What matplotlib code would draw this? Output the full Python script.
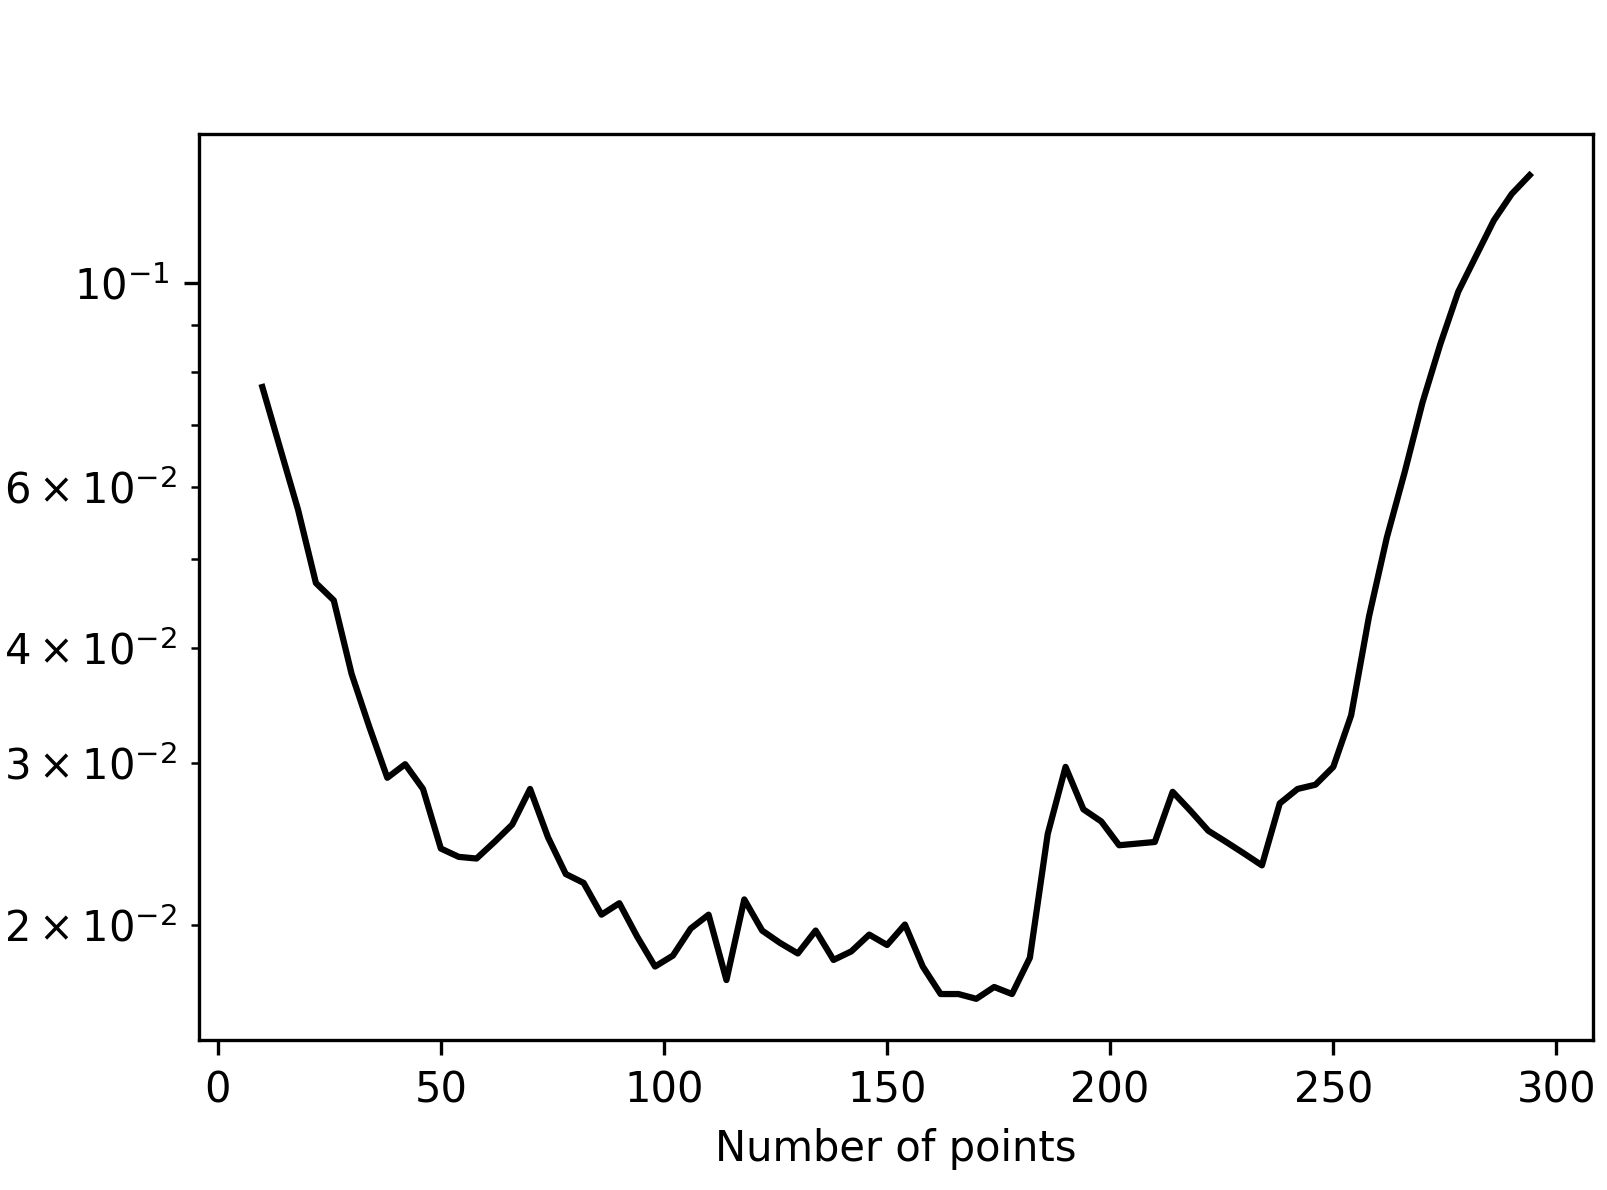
import numpy as np
import matplotlib.pyplot as plt

# Number of points (x) and error values
n_points = list(range(10, 295, 4))
error = [
    0.0770, 0.0660, 0.0566, 0.0471, 0.0451, 0.0375, 0.0328, 0.0289, 0.0299, 0.0281,
    0.0242, 0.0237, 0.0236, 0.0246, 0.0257, 0.0281, 0.0249, 0.0227, 0.0222, 0.0205,
    0.0211, 0.0194, 0.0180, 0.0185, 0.0198, 0.0205, 0.0174, 0.0213, 0.0197, 0.0191,
    0.0186, 0.0197, 0.0183, 0.0187, 0.0195, 0.0190, 0.0200, 0.0180, 0.0168, 0.0168,
    0.0166, 0.0171, 0.0168, 0.0184, 0.0251, 0.0297, 0.0267, 0.0259, 0.0244, 0.0245,
    0.0246, 0.0279, 0.0266, 0.0253, 0.0246, 0.0239, 0.0232, 0.0271, 0.0281, 0.0284,
    0.0297, 0.0338, 0.0433, 0.0528, 0.0622, 0.0741, 0.0858, 0.0978, 0.1070, 0.1170,
    0.1250, 0.1310,
]

dpi = 300
fig = plt.figure(figsize=(1607 / dpi, 1190 / dpi), dpi=dpi)
ax = fig.add_axes([199 / 1607, 1 - 1040 / 1190, (1593 - 199) / 1607, (1040 - 134) / 1190])

ax.plot(n_points, error, color="black", linewidth=1.5)
ax.set_yscale("log")
ax.set_xlabel("Number of points")

fig.savefig("out.png", dpi=dpi)
